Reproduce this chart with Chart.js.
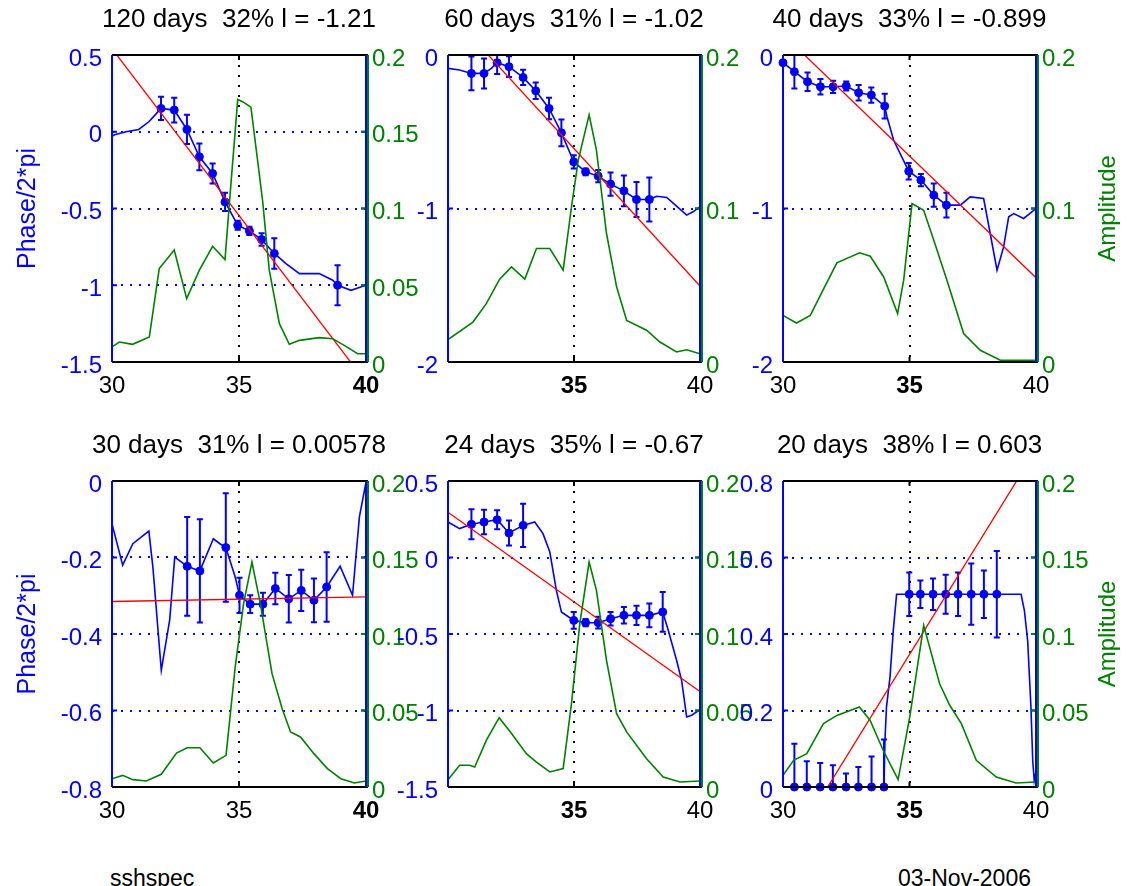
<!DOCTYPE html>
<html>
<head>
<meta charset="utf-8">
<script src="https://cdn.jsdelivr.net/npm/chart.js@4.4.0/dist/chart.umd.min.js"></script>
<style>
  body { margin: 0; background: #fff; width: 1136px; height: 886px; position: relative; overflow: hidden;
         font-family: "Liberation Sans", Arial, sans-serif; }
  canvas { position: absolute; }
  .foot { position: absolute; top: 867px; font-size: 23px; line-height: 23px; color: #000; }
</style>
</head>
<body>
<div class="foot" style="left:110px">sshspec</div>
<div class="foot" style="left:898px">03-Nov-2006</div>
<script>
// ---- data ----
const titles = ['120 days  32% l = -1.21', '60 days  31% l = -1.02', '40 days  33% l = -0.899',
                '30 days  31% l = 0.00578', '24 days  35% l = -0.67', '20 days  38% l = 0.603'];
const xTicks = [30, 35, 40];
const fitX = [30, 40];

// 120 days
const p1PhaseX = [30, 30.1, 30.55, 31.05, 31.45, 31.7, 31.93, 32.45, 32.95, 33.44, 33.96, 34.45, 34.95, 35.41, 35.89, 36.39, 36.85, 37.38, 38.16, 38.69, 38.88, 39.41, 40];
const p1PhaseY = [-0.03, -0.02, 0.0, 0.015, 0.065, 0.11, 0.152, 0.141, 0.015, -0.163, -0.272, -0.457, -0.609, -0.646, -0.702, -0.793, -0.859, -0.924, -0.924, -0.967, -1.0, -1.033, -1.0];
const p1ErrX = [31.93, 32.45, 32.95, 33.44, 33.96, 34.45, 34.95, 35.41, 35.89, 36.39, 38.88];
const p1ErrY = [0.152, 0.141, 0.015, -0.163, -0.272, -0.457, -0.609, -0.646, -0.702, -0.793, -1.0];
const p1ErrE = [0.076, 0.08, 0.095, 0.087, 0.065, 0.06, 0.03, 0.027, 0.04, 0.1, 0.13];
const p1AmpX = [30, 30.29, 30.81, 31.47, 31.86, 32.45, 32.94, 33.44, 33.96, 34.45, 34.62, 34.95, 35.14, 35.47, 35.93, 36.19, 36.59, 36.98, 37.38, 38.16, 38.69, 39.21, 39.67, 40];
const p1AmpY = [0.0098, 0.013, 0.0115, 0.0163, 0.0609, 0.073, 0.0413, 0.0598, 0.0754, 0.0667, 0.103, 0.171, 0.1696, 0.166, 0.105, 0.06, 0.025, 0.0115, 0.0141, 0.0159, 0.0152, 0.0102, 0.0054, 0.0054];
const p1FitY = [0.541, -1.632];
const p1LeftTicks = [-1.5, -1, -0.5, 0, 0.5];

// 60 days
const p2PhaseX = [30, 30.46, 30.93, 31.43, 31.72, 31.95, 32.42, 32.98, 33.48, 34.01, 34.5, 34.99, 35.46, 35.96, 36.45, 36.98, 37.48, 37.99, 38.28, 38.68, 39.07, 39.47, 39.74, 40];
const p2PhaseY = [-0.087, -0.098, -0.12, -0.12, -0.087, -0.05, -0.076, -0.146, -0.233, -0.348, -0.507, -0.696, -0.761, -0.789, -0.841, -0.885, -0.941, -0.941, -0.92, -0.928, -0.985, -1.043, -1.02, -0.989];
const p2ErrX = [30.93, 31.43, 31.95, 32.42, 32.98, 33.48, 34.01, 34.5, 34.99, 35.46, 35.96, 36.45, 36.98, 37.48, 37.99];
const p2ErrY = [-0.12, -0.12, -0.05, -0.076, -0.146, -0.233, -0.348, -0.507, -0.696, -0.761, -0.789, -0.841, -0.885, -0.941, -0.941];
const p2ErrE = [0.11, 0.098, 0.074, 0.068, 0.05, 0.054, 0.07, 0.087, 0.043, 0.022, 0.04, 0.076, 0.1, 0.114, 0.143];
const p2AmpX = [30, 30.99, 31.52, 32.05, 32.52, 33.05, 33.51, 34.04, 34.57, 34.9, 35.17, 35.6, 35.89, 36.29, 36.69, 37.09, 37.88, 38.41, 39.07, 39.47, 40];
const p2AmpY = [0.0146, 0.026, 0.038, 0.054, 0.062, 0.054, 0.0739, 0.0739, 0.0598, 0.101, 0.1315, 0.161, 0.138, 0.0837, 0.049, 0.027, 0.0207, 0.013, 0.0065, 0.008, 0.0054];
const p2FitY = [0.286, -1.505];
const p2LeftTicks = [-2, -1, 0];

// 40 days
const p3PhaseX = [30, 30.45, 30.97, 31.48, 31.98, 32.5, 32.99, 33.49, 34.02, 34.11, 34.37, 34.97, 35.45, 35.96, 36.46, 37.01, 37.4, 37.93, 38.19, 38.46, 38.72, 38.92, 39.12, 39.51, 40];
const p3PhaseY = [-0.05, -0.109, -0.174, -0.207, -0.207, -0.202, -0.246, -0.261, -0.333, -0.402, -0.554, -0.757, -0.815, -0.913, -0.978, -0.978, -0.924, -0.935, -1.163, -1.402, -1.25, -1.054, -1.033, -1.065, -1.0];
const p3ErrX = [30, 30.45, 30.97, 31.48, 31.98, 32.5, 32.99, 33.49, 34.02, 34.97, 35.45, 35.96, 36.46];
const p3ErrY = [-0.05, -0.109, -0.174, -0.207, -0.207, -0.202, -0.246, -0.261, -0.333, -0.757, -0.815, -0.913, -0.978];
const p3ErrE = [0.01, 0.11, 0.06, 0.05, 0.04, 0.03, 0.05, 0.05, 0.08, 0.054, 0.04, 0.076, 0.08];
const p3AmpX = [30, 30.53, 31.08, 31.61, 32.13, 33.03, 33.45, 33.98, 34.53, 34.77, 35.1, 35.56, 35.96, 36.48, 37.14, 37.8, 38.59, 40];
const p3AmpY = [0.0304, 0.0254, 0.0304, 0.0478, 0.0646, 0.0711, 0.0689, 0.0554, 0.0315, 0.0533, 0.1033, 0.0989, 0.0793, 0.0533, 0.0185, 0.0076, 0.0011, 0.0011];
const p3FitY = [0.135, -1.451];
const p3LeftTicks = [-2, -1, 0];

// 30 days
const p4PhaseX = [30, 30.42, 30.82, 31.45, 31.61, 31.94, 32.27, 32.47, 32.96, 33.46, 33.99, 34.25, 34.48, 34.85, 35.02, 35.44, 35.94, 36.43, 36.96, 37.45, 37.95, 38.45, 38.98, 39.47, 39.74, 40];
const p4PhaseY = [-0.112, -0.22, -0.164, -0.131, -0.225, -0.495, -0.364, -0.199, -0.223, -0.235, -0.151, -0.164, -0.174, -0.251, -0.299, -0.322, -0.322, -0.281, -0.308, -0.286, -0.312, -0.277, -0.223, -0.299, -0.094, -0.003];
const p4ErrX = [32.96, 33.46, 34.48, 35.02, 35.44, 35.94, 36.43, 36.96, 37.45, 37.95, 38.45];
const p4ErrY = [-0.223, -0.235, -0.174, -0.299, -0.322, -0.322, -0.281, -0.308, -0.286, -0.312, -0.277];
const p4ErrE = [0.129, 0.135, 0.142, 0.046, 0.023, 0.03, 0.041, 0.062, 0.054, 0.057, 0.091];
const p4AmpX = [30, 30.42, 30.82, 31.35, 31.94, 32.54, 32.96, 33.46, 33.99, 34.49, 34.85, 35.18, 35.51, 35.84, 36.3, 36.7, 37.03, 37.42, 37.95, 38.48, 39.01, 39.54, 40];
const p4AmpY = [0.0054, 0.0076, 0.0048, 0.0039, 0.0083, 0.0222, 0.0257, 0.0257, 0.0157, 0.0207, 0.0784, 0.1198, 0.147, 0.1198, 0.0741, 0.0512, 0.036, 0.0327, 0.0218, 0.012, 0.0054, 0.0026, 0.0039];
const p4FitY = [-0.315, -0.303];
const p4LeftTicks = [-0.8, -0.6, -0.4, -0.2, 0];

// 24 days
const p5PhaseX = [30, 30.46, 30.93, 31.43, 31.95, 32.42, 32.98, 33.44, 33.77, 34.04, 34.3, 34.5, 34.99, 35.46, 35.96, 36.45, 36.98, 37.48, 37.99, 38.52, 38.74, 39.07, 39.27, 39.47, 39.67, 40];
const p5PhaseY = [0.232, 0.189, 0.217, 0.232, 0.247, 0.16, 0.21, 0.232, 0.156, 0.036, -0.215, -0.356, -0.411, -0.426, -0.426, -0.4, -0.378, -0.378, -0.378, -0.356, -0.476, -0.672, -0.803, -1.042, -1.031, -0.994];
const p5ErrX = [30.93, 31.43, 31.95, 32.42, 32.98, 34.99, 35.46, 35.96, 36.45, 36.98, 37.48, 37.99, 38.52];
const p5ErrY = [0.217, 0.232, 0.247, 0.16, 0.21, -0.411, -0.426, -0.426, -0.4, -0.378, -0.378, -0.378, -0.356];
const p5ErrE = [0.098, 0.08, 0.062, 0.082, 0.142, 0.054, 0.024, 0.038, 0.044, 0.054, 0.063, 0.078, 0.13];
const p5AmpX = [30, 30.46, 30.86, 31.06, 31.52, 32.03, 32.52, 33.11, 33.51, 34.04, 34.57, 34.9, 35.23, 35.6, 35.89, 36.29, 36.69, 37.09, 37.88, 38.54, 39.21, 40];
const p5AmpY = [0.0048, 0.0142, 0.0142, 0.0131, 0.0305, 0.0453, 0.0349, 0.0218, 0.0163, 0.0098, 0.012, 0.0545, 0.1068, 0.147, 0.1285, 0.0828, 0.0479, 0.036, 0.0185, 0.0065, 0.0033, 0.0039];
const p5FitY = [0.296, -0.876];
const p5LeftTicks = [-1.5, -1, -0.5, 0, 0.5];

// 20 days
const p6PhaseX = [30, 33.99, 34.03, 34.09, 34.23, 34.36, 34.49, 39.41, 39.54, 39.67, 39.8, 39.87, 39.93, 40];
const p6PhaseY = [0, 0, 0.122, 0.209, 0.288, 0.41, 0.504, 0.504, 0.462, 0.383, 0.209, 0.07, 0.017, 0.04];
const p6ErrX = [30.45, 30.94, 31.47, 31.97, 32.49, 32.98, 33.5, 33.99, 34.99, 35.43, 35.93, 36.43, 36.92, 37.44, 37.94, 38.45];
const p6ErrY = [0, 0, 0, 0, 0, 0, 0, 0, 0.504, 0.504, 0.504, 0.504, 0.504, 0.504, 0.504, 0.504];
const p6ErrE = [0.113, 0.067, 0.063, 0.057, 0.035, 0.052, 0.08, 0.124, 0.057, 0.036, 0.041, 0.051, 0.057, 0.08, 0.062, 0.113];
const p6AmpX = [30, 30.42, 30.94, 31.6, 32.13, 33.02, 33.44, 33.96, 34.55, 35.01, 35.56, 36.19, 36.59, 37.05, 37.64, 38.43, 39.21, 40];
const p6AmpY = [0.0076, 0.0174, 0.0218, 0.0414, 0.0468, 0.0523, 0.0436, 0.024, 0.0048, 0.0458, 0.1057, 0.0675, 0.0534, 0.0414, 0.0174, 0.0065, 0.0026, 0.0033];
const p6FitY = [-0.189, 0.882];
const p6LeftTicks = [0, 0.2, 0.4, 0.6, 0.8];

const ampTicks5 = [0, 0.05, 0.1, 0.15, 0.2];
const ampTicks3 = [0, 0.1, 0.2];

// ---- layout ----
const FONT = '"Liberation Sans", Arial, sans-serif';
const BLUE = '#0000ff', GREEN = '#008000', RED = '#ff0000';
const AX_L = 100, AX_R = 100, AX_T = 50, AX_B = 50;

const panels = [
  { left: 112, top: 55, w: 254, h: 307, title: titles[0], phaseX: p1PhaseX, phaseY: p1PhaseY, errX: p1ErrX, errY: p1ErrY, errE: p1ErrE,
    ampX: p1AmpX, ampY: p1AmpY, fitY: p1FitY, leftTicks: p1LeftTicks, rightTicks: ampTicks5, yLabel: true, ampLabel: '', hide30: false, bold: 40 },
  { left: 448, top: 55, w: 252, h: 307, title: titles[1], phaseX: p2PhaseX, phaseY: p2PhaseY, errX: p2ErrX, errY: p2ErrY, errE: p2ErrE,
    ampX: p2AmpX, ampY: p2AmpY, fitY: p2FitY, leftTicks: p2LeftTicks, rightTicks: ampTicks3, yLabel: false, ampLabel: '', hide30: true, bold: 35 },
  { left: 783, top: 55, w: 253, h: 307, title: titles[2], phaseX: p3PhaseX, phaseY: p3PhaseY, errX: p3ErrX, errY: p3ErrY, errE: p3ErrE,
    ampX: p3AmpX, ampY: p3AmpY, fitY: p3FitY, leftTicks: p3LeftTicks, rightTicks: ampTicks3, yLabel: false, ampLabel: 'Amplitude', hide30: false, bold: 35 },
  { left: 112, top: 481, w: 254, h: 306, title: titles[3], phaseX: p4PhaseX, phaseY: p4PhaseY, errX: p4ErrX, errY: p4ErrY, errE: p4ErrE,
    ampX: p4AmpX, ampY: p4AmpY, fitY: p4FitY, leftTicks: p4LeftTicks, rightTicks: ampTicks5, yLabel: true, ampLabel: '', hide30: false, bold: 40 },
  { left: 448, top: 481, w: 252, h: 306, title: titles[4], phaseX: p5PhaseX, phaseY: p5PhaseY, errX: p5ErrX, errY: p5ErrY, errE: p5ErrE,
    ampX: p5AmpX, ampY: p5AmpY, fitY: p5FitY, leftTicks: p5LeftTicks, rightTicks: ampTicks5, yLabel: false, ampLabel: '', hide30: true, bold: 35 },
  { left: 783, top: 481, w: 253, h: 306, title: titles[5], phaseX: p6PhaseX, phaseY: p6PhaseY, errX: p6ErrX, errY: p6ErrY, errE: p6ErrE,
    ampX: p6AmpX, ampY: p6AmpY, fitY: p6FitY, leftTicks: p6LeftTicks, rightTicks: ampTicks5, yLabel: false, ampLabel: 'Amplitude', hide30: false, bold: 35 }
];

function pts(xs, ys) { return xs.map((x, i) => ({ x: x, y: ys[i] })); }

// vertical bars with caps, separated by gaps
function errSegments(xs, ys, es, cap) {
  const out = [];
  xs.forEach((x, i) => {
    const lo = ys[i] - es[i], hi = ys[i] + es[i];
    out.push({ x: x, y: lo }, { x: x, y: hi }, { x: x, y: null });
    out.push({ x: x - cap, y: hi }, { x: x + cap, y: hi }, { x: x, y: null });
    out.push({ x: x - cap, y: lo }, { x: x + cap, y: lo }, { x: x, y: null });
  });
  return out;
}

// box, inward ticks and the right-hand ylabel, MATLAB style
const matlabBox = {
  id: 'matlabBox',
  afterDatasetsDraw(chart, args, opts) {
    const { ctx, chartArea: a, scales } = chart;
    const tl = 5;
    const line = (x1, y1, x2, y2, c) => {
      ctx.strokeStyle = c; ctx.beginPath(); ctx.moveTo(x1, y1); ctx.lineTo(x2, y2); ctx.stroke();
    };
    ctx.save();
    ctx.lineWidth = 2;
    scales.y.ticks.forEach(t => {
      const y = scales.y.getPixelForValue(t.value);
      line(a.left, y, a.left + tl, y, BLUE);
      line(a.right - tl, y, a.right, y, BLUE);
    });
    scales.y2.ticks.forEach(t => {
      const y = scales.y2.getPixelForValue(t.value);
      line(a.right - tl, y, a.right + 2, y, GREEN);
    });
    scales.x.ticks.forEach(t => {
      const x = scales.x.getPixelForValue(t.value);
      line(x, a.bottom, x, a.bottom - tl, '#000');
      line(x, a.top, x, a.top + tl, '#000');
    });
    line(a.left, a.top, a.right + 2, a.top, '#000');
    line(a.left, a.bottom, a.right + 2, a.bottom, '#000');
    line(a.left, a.top, a.left, a.bottom, BLUE);
    line(a.right, a.top, a.right, a.bottom, BLUE);
    line(a.right + 2, a.top, a.right + 2, a.bottom, GREEN);
    if (opts.rightLabel) {
      ctx.translate(a.right + 72, (a.top + a.bottom) / 2);
      ctx.rotate(-Math.PI / 2);
      ctx.fillStyle = GREEN;
      ctx.font = '24px ' + FONT;
      ctx.textAlign = 'center';
      ctx.textBaseline = 'middle';
      ctx.fillText(opts.rightLabel, 0, 0);
    }
    ctx.restore();
  }
};

panels.forEach(p => {
  const cv = document.createElement('canvas');
  cv.width = p.w + AX_L + AX_R;
  cv.height = p.h + AX_T + AX_B;
  cv.style.left = (p.left - AX_L) + 'px';
  cv.style.top = (p.top - AX_T) + 'px';
  document.body.appendChild(cv);

  const lmin = p.leftTicks[0], lmax = p.leftTicks[p.leftTicks.length - 1];

  new Chart(cv.getContext('2d'), {
    type: 'line',
    data: {
      datasets: [
        { data: pts(p.ampX, p.ampY), yAxisID: 'y2', borderColor: GREEN, borderWidth: 1.6, pointRadius: 0 },
        { data: pts(fitX, p.fitY), yAxisID: 'y', borderColor: RED, borderWidth: 1.3, pointRadius: 0 },
        { data: errSegments(p.errX, p.errY, p.errE, 0.12), yAxisID: 'y', borderColor: BLUE, borderWidth: 2,
          pointRadius: 0, spanGaps: false },
        { data: pts(p.errX, p.errY), yAxisID: 'y', showLine: false, pointRadius: 4, pointStyle: 'circle',
          pointBackgroundColor: BLUE, pointBorderColor: BLUE, clip: false },
        { data: pts(p.phaseX, p.phaseY), yAxisID: 'y', borderColor: BLUE, borderWidth: 1.6, pointRadius: 0 }
      ]
    },
    options: {
      responsive: false,
      animation: false,
      devicePixelRatio: 1,
      events: [],
      plugins: {
        legend: { display: false },
        tooltip: { enabled: false },
        title: {
          display: true, text: p.title, color: '#000',
          font: { family: FONT, size: 26, weight: 'normal', lineHeight: 1 },
          padding: { top: 2, bottom: AX_T - 28 }
        },
        matlabBox: { rightLabel: p.ampLabel }
      },
      scales: {
        x: {
          type: 'linear', min: 30, max: 40,
          afterBuildTicks: s => { s.ticks = xTicks.map(v => ({ value: v })); },
          afterFit: s => { s.height = AX_B; },
          grid: { drawTicks: false, lineWidth: 2, color: c => (c.tick && c.tick.value === 35 ? '#000' : 'rgba(0,0,0,0)') },
          border: { display: false, dash: [2, 8] },
          ticks: {
            color: '#000', padding: 10, maxRotation: 0, autoSkip: false,
            font: c => ({ family: FONT, size: 24, weight: (c.tick && c.tick.value === p.bold) ? 'bold' : 'normal' }),
            callback: v => (p.hide30 && v === 30 ? '' : String(v))
          }
        },
        y: {
          position: 'left', min: lmin, max: lmax,
          afterBuildTicks: s => { s.ticks = p.leftTicks.map(v => ({ value: v })); },
          afterFit: s => { s.width = AX_L; },
          grid: { drawTicks: false, lineWidth: 2,
                  color: c => (c.tick && c.tick.value !== lmin && c.tick.value !== lmax ? BLUE : 'rgba(0,0,0,0)') },
          border: { display: false, dash: [2, 7] },
          ticks: { color: BLUE, padding: 10, labelOffset: 4, autoSkip: false,
                   font: { family: FONT, size: 24 }, callback: v => String(v) },
          title: { display: p.yLabel, text: 'Phase/2*pi', color: BLUE,
                   font: { family: FONT, size: 25, lineHeight: 1 }, padding: { top: 3.5, bottom: 0 } }
        },
        y2: {
          position: 'right', min: 0, max: 0.2,
          afterBuildTicks: s => { s.ticks = p.rightTicks.map(v => ({ value: v })); },
          afterFit: s => { s.width = AX_R; },
          grid: { display: false, drawTicks: false },
          border: { display: false },
          ticks: { color: GREEN, padding: 6, labelOffset: 4, autoSkip: false,
                   font: { family: FONT, size: 24 }, callback: v => String(v) }
        }
      }
    },
    plugins: [matlabBox]
  });
});
</script>
</body>
</html>
